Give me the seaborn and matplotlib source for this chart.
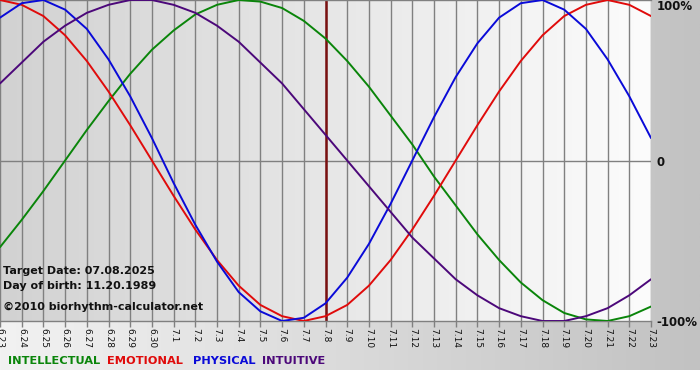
import numpy as np
import pandas as pd
import matplotlib
matplotlib.use("Agg")
import matplotlib.pyplot as plt
import seaborn as sns
from matplotlib.colors import LinearSegmentedColormap

# ---- data (percent values per day) ----
dates = ["6.23", "6.24", "6.25", "6.26", "6.27", "6.28", "6.29", "6.30",
         "7.1", "7.2", "7.3", "7.4", "7.5", "7.6", "7.7", "7.8", "7.9",
         "7.10", "7.11", "7.12", "7.13", "7.14", "7.15", "7.16", "7.17",
         "7.18", "7.19", "7.20", "7.21", "7.22", "7.23"]
physical = [89, 98, 100, 94, 82, 63, 40, 14, -14, -40, -63, -82, -94, -100, -98,
            -89, -73, -52, -27, 0, 27, 52, 73, 89, 98, 100, 94, 82, 63, 40, 14]
emotional = [100, 97, 90, 78, 62, 43, 22, 0, -22, -43, -62, -78, -90, -97, -100,
             -97, -90, -78, -62, -43, -22, 0, 22, 43, 62, 78, 90, 97, 100, 97, 90]
intellectual = [-54, -37, -19, 0, 19, 37, 54, 69, 81, 91, 97, 100, 99, 95, 87,
                76, 62, 46, 28, 10, -10, -28, -46, -62, -76, -87, -95, -99, -100, -97, -91]
intuitive = [48, 61, 74, 84, 92, 97, 100, 100, 97, 92, 84, 74, 61, 48, 32,
             16, 0, -16, -32, -48, -61, -74, -84, -92, -97, -100, -100, -97, -92, -84, -74]
target_index = 15  # 7.8
y_tick_values = [-100, 0, 100]
y_tick_labels = ["-100%", "0", "100%"]
legend_names = ["INTELLECTUAL", "EMOTIONAL", "PHYSICAL", "INTUITIVE"]
info_lines = ["Target Date: 07.08.2025", "Day of birth: 11.20.1989"]
copyright_text = "\u00a92010 biorhythm-calculator.net"

colors = {"INTELLECTUAL": "#0a850a", "EMOTIONAL": "#e00b0b",
          "PHYSICAL": "#0a0ad8", "INTUITIVE": "#4c087a"}

series = {"INTELLECTUAL": intellectual, "EMOTIONAL": emotional,
          "PHYSICAL": physical, "INTUITIVE": intuitive}
rows = []
for name, vals in series.items():
    for i, v in enumerate(vals):
        rows.append({"day": i, "value": v, "series": name})
df = pd.DataFrame(rows)

sns.set_theme(style="white")
plt.rcParams["font.family"] = ["DejaVu Sans"]

W, H = 700, 380
fig = plt.figure(figsize=(7, 3.8), dpi=100)

# figure background gradient
bg = fig.add_axes([0, 0, 1, 1], zorder=-10)
grad = np.linspace(0, 1, 256).reshape(1, -1)
cmap_bg = LinearSegmentedColormap.from_list("bg", ["#f2f2f2", "#c2c2c2"])
bg.imshow(grad, aspect="auto", cmap=cmap_bg, extent=[0, 1, 10 / H, 1])
bg.set_xlim(0, 1)
bg.set_ylim(0, 1)
bg.axis("off")

# main axes
ax_left, ax_right = 0 / W, 651 / W
ax_top, ax_bottom = 0, 321
ax = fig.add_axes([ax_left, 1 - ax_bottom / H, ax_right - ax_left, (ax_bottom - ax_top) / H])
n = len(dates)
cmap_pl = LinearSegmentedColormap.from_list("pl", ["#d2d2d2", "#fcfcfc"])
ax.imshow(grad, aspect="auto", cmap=cmap_pl, extent=[0, n - 1, -100, 100], zorder=0)

sns.lineplot(data=df, x="day", y="value", hue="series", palette=colors,
             hue_order=legend_names, legend=False, linewidth=1.4, ax=ax, zorder=3)

ax.set_xlim(0, n - 1)
ax.set_ylim(-100, 100)
ax.set_xticks(range(n))
ax.set_xticklabels(dates, rotation=270, fontsize=6.5, color="#111111")
ax.tick_params(axis="x", length=4, width=1, color="#808080", pad=1, bottom=True)
ax.grid(axis="x", color="#808080", linewidth=1, zorder=1)
ax.set_axisbelow(True)
ax.axhline(0, color="#808080", linewidth=1, zorder=1)
ax.axvline(target_index, color="#7a1010", linewidth=1.8, zorder=2)
ax.yaxis.tick_right()
ax.set_yticks(y_tick_values)
ax.set_yticklabels(y_tick_labels, fontsize=8.5, fontweight="bold", color="#111111")
ax.tick_params(axis="y", length=0, pad=4)
for lbl in ax.get_yticklabels():
    if lbl.get_text() == "100%":
        lbl.set_va("top")
        lbl.set_y(100)
ax.set_xlabel("")
ax.set_ylabel("")
for s in ["left", "right"]:
    ax.spines[s].set_visible(False)
ax.spines["top"].set_color("#808080")
ax.spines["bottom"].set_color("#808080")
ax.spines["top"].set_linewidth(1)
ax.spines["bottom"].set_linewidth(1)

# info texts
ax.text(3 / 651, 1 - 271 / 321, info_lines[0], transform=ax.transAxes,
        fontsize=8, fontweight="bold", color="#111111", va="center", ha="left", zorder=5)
ax.text(3 / 651, 1 - 286 / 321, info_lines[1], transform=ax.transAxes,
        fontsize=8, fontweight="bold", color="#111111", va="center", ha="left", zorder=5)
ax.text(3 / 651, 1 - 307 / 321, copyright_text, transform=ax.transAxes,
        fontsize=8, fontweight="bold", color="#111111", va="center", ha="left", zorder=5)

# legend texts
leg_x = [8, 107, 193, 262]
for name, x in zip(legend_names, leg_x):
    fig.text(x / W, 1 - 361 / H, name, fontsize=8.2, fontweight="bold",
             color=colors[name], va="center", ha="left")

fig.savefig("out.png", dpi=100)
